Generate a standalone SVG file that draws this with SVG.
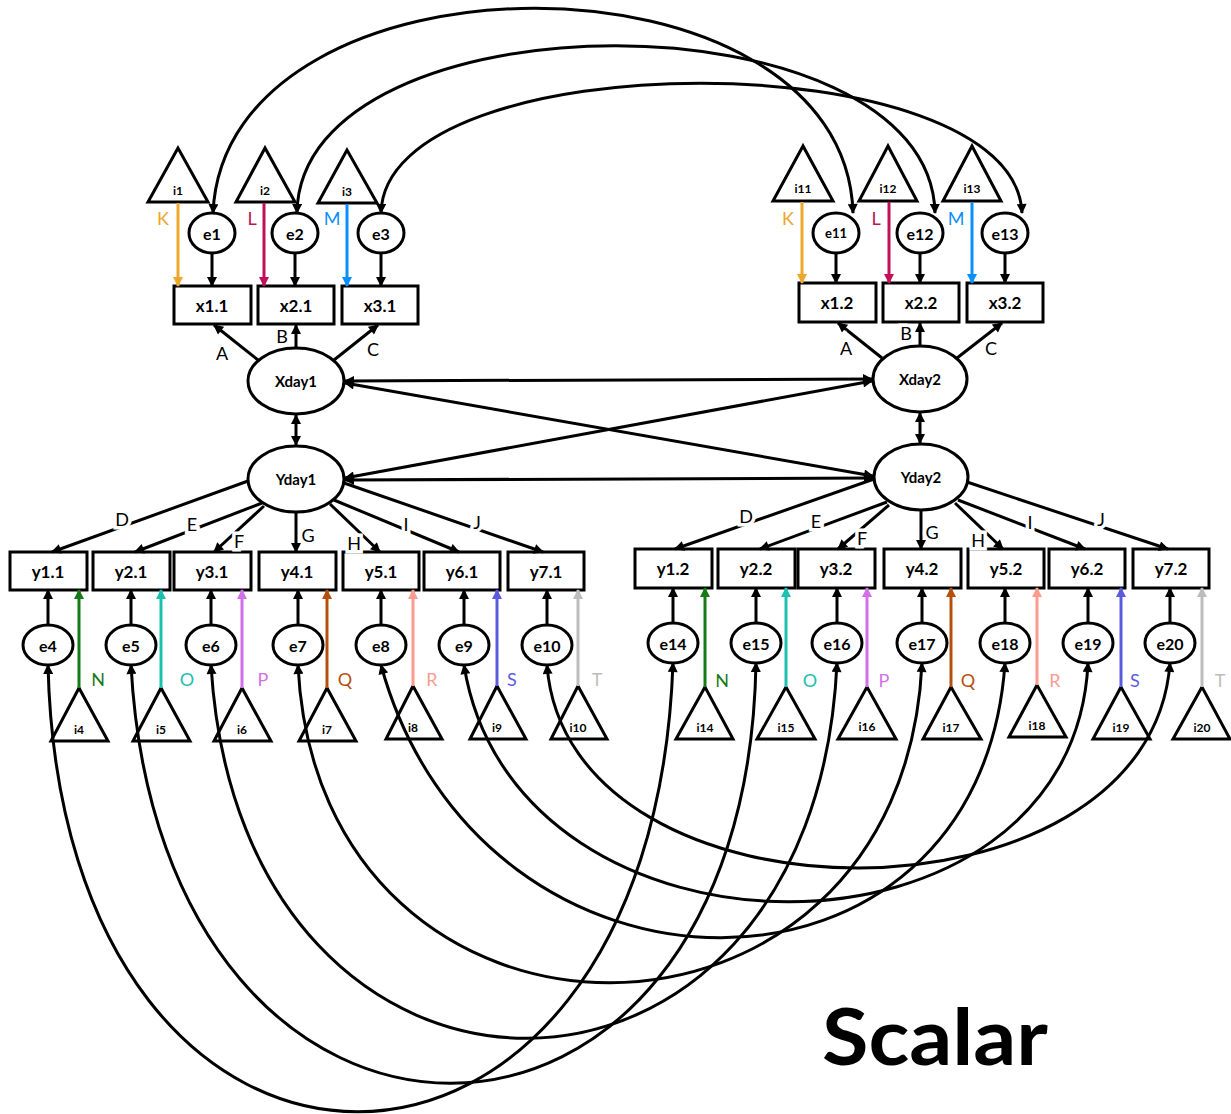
<svg xmlns="http://www.w3.org/2000/svg" width="1231" height="1114" viewBox="0 0 1231 1114">
<style>
.n{fill:#fff;stroke:#000;stroke-width:3}
.tri{fill:none;stroke:#000;stroke-width:3;stroke-linejoin:miter}
.t{font-family:Lato,"Open Sans",sans-serif;font-weight:700;text-anchor:middle;dominant-baseline:central;fill:#000}
.bx{font-size:17px}
.el{font-size:16px}
.lv{font-size:15px}
.ti{font-size:12px}
.c{fill:none;stroke:#000;stroke-width:3}
.a{marker-end:url(#ah)}
.d{marker-start:url(#ah);marker-end:url(#ah)}
.lab{font-family:Lato,"Open Sans",sans-serif;font-size:18px;text-anchor:middle;dominant-baseline:central;fill:#000;stroke:#fff;stroke-width:7;paint-order:stroke}
.cl{font-family:Lato,"Open Sans",sans-serif;font-size:18px;text-anchor:middle;dominant-baseline:central}
</style>
<defs>
<marker id="ah" viewBox="0 0 10 10" refX="9" refY="5" markerWidth="11" markerHeight="10" markerUnits="userSpaceOnUse" orient="auto-start-reverse"><path d="M0,0L10,5L0,10z" fill="#000"/></marker>
<marker id="mK" viewBox="0 0 10 10" refX="9" refY="5" markerWidth="11" markerHeight="10" markerUnits="userSpaceOnUse" orient="auto"><path d="M0,0L10,5L0,10z" fill="#EBA82A"/></marker>
<marker id="mL" viewBox="0 0 10 10" refX="9" refY="5" markerWidth="11" markerHeight="10" markerUnits="userSpaceOnUse" orient="auto"><path d="M0,0L10,5L0,10z" fill="#C0105A"/></marker>
<marker id="mM" viewBox="0 0 10 10" refX="9" refY="5" markerWidth="11" markerHeight="10" markerUnits="userSpaceOnUse" orient="auto"><path d="M0,0L10,5L0,10z" fill="#0A8FFF"/></marker>
<marker id="mN" viewBox="0 0 10 10" refX="9" refY="5" markerWidth="11" markerHeight="10" markerUnits="userSpaceOnUse" orient="auto"><path d="M0,0L10,5L0,10z" fill="#167A16"/></marker>
<marker id="mO" viewBox="0 0 10 10" refX="9" refY="5" markerWidth="11" markerHeight="10" markerUnits="userSpaceOnUse" orient="auto"><path d="M0,0L10,5L0,10z" fill="#1CC0B0"/></marker>
<marker id="mP" viewBox="0 0 10 10" refX="9" refY="5" markerWidth="11" markerHeight="10" markerUnits="userSpaceOnUse" orient="auto"><path d="M0,0L10,5L0,10z" fill="#D270E8"/></marker>
<marker id="mQ" viewBox="0 0 10 10" refX="9" refY="5" markerWidth="11" markerHeight="10" markerUnits="userSpaceOnUse" orient="auto"><path d="M0,0L10,5L0,10z" fill="#B4500E"/></marker>
<marker id="mR" viewBox="0 0 10 10" refX="9" refY="5" markerWidth="11" markerHeight="10" markerUnits="userSpaceOnUse" orient="auto"><path d="M0,0L10,5L0,10z" fill="#FF9A90"/></marker>
<marker id="mS" viewBox="0 0 10 10" refX="9" refY="5" markerWidth="11" markerHeight="10" markerUnits="userSpaceOnUse" orient="auto"><path d="M0,0L10,5L0,10z" fill="#5B5BDE"/></marker>
<marker id="mT" viewBox="0 0 10 10" refX="9" refY="5" markerWidth="11" markerHeight="10" markerUnits="userSpaceOnUse" orient="auto"><path d="M0,0L10,5L0,10z" fill="#BDBDBD"/></marker>
</defs>
<rect width="1231" height="1114" fill="#fff"/>

<!-- nodes -->
<g id="i1"><polygon class="tri" points="178,148 148,202 208,202"/><text class="t ti" x="178" y="190">i1</text></g>
<g id="i2"><polygon class="tri" points="265,148 236,202 295,202"/><text class="t ti" x="265" y="190">i2</text></g>
<g id="i3"><polygon class="tri" points="347,150 318,203 377,203"/><text class="t ti" x="347" y="191">i3</text></g>
<g id="i11"><polygon class="tri" points="803,146 773,201 833,201"/><text class="t ti" x="803" y="188">i11</text></g>
<g id="i12"><polygon class="tri" points="888,146 859,201 917,201"/><text class="t ti" x="888" y="188">i12</text></g>
<g id="i13"><polygon class="tri" points="972,146 943,201 1001,201"/><text class="t ti" x="972" y="188">i13</text></g>

<g id="e1"><ellipse class="n" cx="212" cy="233" rx="23" ry="20"/><text class="t el" x="212" y="233">e1</text></g>
<g id="e2"><ellipse class="n" cx="295" cy="233" rx="23" ry="20"/><text class="t el" x="295" y="233">e2</text></g>
<g id="e3"><ellipse class="n" cx="381" cy="233" rx="23" ry="20"/><text class="t el" x="381" y="233">e3</text></g>
<g id="e11"><ellipse class="n" cx="836" cy="233" rx="23" ry="20"/><text class="t el" x="836" y="233" style="font-size:13px">e11</text></g>
<g id="e12"><ellipse class="n" cx="920" cy="233" rx="23" ry="20"/><text class="t el" x="920" y="233">e12</text></g>
<g id="e13"><ellipse class="n" cx="1005" cy="233" rx="23" ry="20"/><text class="t el" x="1005" y="233">e13</text></g>

<g id="x1.1"><rect class="n" x="174" y="286" width="77" height="38"/><text class="t bx" x="212" y="305">x1.1</text></g>
<g id="x2.1"><rect class="n" x="258" y="286" width="76" height="38"/><text class="t bx" x="296" y="305">x2.1</text></g>
<g id="x3.1"><rect class="n" x="342" y="286" width="76" height="38"/><text class="t bx" x="380" y="305">x3.1</text></g>
<g id="x1.2"><rect class="n" x="799" y="283" width="77" height="39"/><text class="t bx" x="837" y="302">x1.2</text></g>
<g id="x2.2"><rect class="n" x="883" y="283" width="76" height="39"/><text class="t bx" x="921" y="302">x2.2</text></g>
<g id="x3.2"><rect class="n" x="967" y="283" width="76" height="39"/><text class="t bx" x="1005" y="302">x3.2</text></g>

<g id="Xday1"><ellipse class="n" cx="296" cy="381" rx="48" ry="33"/><text class="t lv" x="296" y="381">Xday1</text></g>
<g id="Yday1"><ellipse class="n" cx="296" cy="479" rx="48" ry="33"/><text class="t lv" x="296" y="479">Yday1</text></g>
<g id="Xday2"><ellipse class="n" cx="920" cy="379" rx="47" ry="33"/><text class="t lv" x="920" y="379">Xday2</text></g>
<g id="Yday2"><ellipse class="n" cx="921" cy="477" rx="47" ry="33"/><text class="t lv" x="921" y="477">Yday2</text></g>

<g id="y1.1"><rect class="n" x="10" y="552" width="77" height="38"/><text class="t bx" x="48" y="571">y1.1</text></g>
<g id="y2.1"><rect class="n" x="93" y="552" width="77" height="38"/><text class="t bx" x="131" y="571">y2.1</text></g>
<g id="y3.1"><rect class="n" x="174" y="552" width="77" height="38"/><text class="t bx" x="212" y="571">y3.1</text></g>
<g id="y4.1"><rect class="n" x="259" y="552" width="77" height="38"/><text class="t bx" x="297" y="571">y4.1</text></g>
<g id="y5.1"><rect class="n" x="343" y="552" width="76" height="38"/><text class="t bx" x="381" y="571">y5.1</text></g>
<g id="y6.1"><rect class="n" x="424" y="552" width="76" height="38"/><text class="t bx" x="462" y="571">y6.1</text></g>
<g id="y7.1"><rect class="n" x="508" y="552" width="76" height="38"/><text class="t bx" x="546" y="571">y7.1</text></g>

<g id="y1.2"><rect class="n" x="635" y="549" width="77" height="39"/><text class="t bx" x="673" y="568">y1.2</text></g>
<g id="y2.2"><rect class="n" x="718" y="549" width="77" height="39"/><text class="t bx" x="756" y="568">y2.2</text></g>
<g id="y3.2"><rect class="n" x="798" y="549" width="77" height="39"/><text class="t bx" x="836" y="568">y3.2</text></g>
<g id="y4.2"><rect class="n" x="884" y="549" width="77" height="39"/><text class="t bx" x="922" y="568">y4.2</text></g>
<g id="y5.2"><rect class="n" x="968" y="549" width="76" height="39"/><text class="t bx" x="1006" y="568">y5.2</text></g>
<g id="y6.2"><rect class="n" x="1049" y="549" width="76" height="39"/><text class="t bx" x="1087" y="568">y6.2</text></g>
<g id="y7.2"><rect class="n" x="1133" y="549" width="76" height="39"/><text class="t bx" x="1171" y="568">y7.2</text></g>

<g id="e4"><ellipse class="n" cx="48" cy="645" rx="25" ry="20"/><text class="t el" x="48" y="645">e4</text></g>
<g id="e5"><ellipse class="n" cx="131" cy="645" rx="25" ry="20"/><text class="t el" x="131" y="645">e5</text></g>
<g id="e6"><ellipse class="n" cx="211" cy="645" rx="25" ry="20"/><text class="t el" x="211" y="645">e6</text></g>
<g id="e7"><ellipse class="n" cx="298" cy="645" rx="25" ry="20"/><text class="t el" x="298" y="645">e7</text></g>
<g id="e8"><ellipse class="n" cx="381" cy="645" rx="25" ry="20"/><text class="t el" x="381" y="645">e8</text></g>
<g id="e9"><ellipse class="n" cx="464" cy="645" rx="25" ry="20"/><text class="t el" x="464" y="645">e9</text></g>
<g id="e10"><ellipse class="n" cx="547" cy="645" rx="25" ry="20"/><text class="t el" x="547" y="645">e10</text></g>

<g id="e14"><ellipse class="n" cx="673" cy="643" rx="25" ry="20"/><text class="t el" x="673" y="643">e14</text></g>
<g id="e15"><ellipse class="n" cx="756" cy="643" rx="25" ry="20"/><text class="t el" x="756" y="643">e15</text></g>
<g id="e16"><ellipse class="n" cx="837" cy="643" rx="25" ry="20"/><text class="t el" x="837" y="643">e16</text></g>
<g id="e17"><ellipse class="n" cx="922" cy="643" rx="25" ry="20"/><text class="t el" x="922" y="643">e17</text></g>
<g id="e18"><ellipse class="n" cx="1005" cy="643" rx="25" ry="20"/><text class="t el" x="1005" y="643">e18</text></g>
<g id="e19"><ellipse class="n" cx="1088" cy="643" rx="25" ry="20"/><text class="t el" x="1088" y="643">e19</text></g>
<g id="e20"><ellipse class="n" cx="1170" cy="643" rx="25" ry="20"/><text class="t el" x="1170" y="643">e20</text></g>

<g id="i4"><polygon class="tri" points="79,688 51,741 108,741"/><text class="t ti" x="79" y="729">i4</text></g>
<g id="i5"><polygon class="tri" points="161,688 133,741 190,741"/><text class="t ti" x="161" y="729">i5</text></g>
<g id="i6"><polygon class="tri" points="242,688 214,741 271,741"/><text class="t ti" x="242" y="729">i6</text></g>
<g id="i7"><polygon class="tri" points="327,688 299,741 356,741"/><text class="t ti" x="327" y="729">i7</text></g>
<g id="i8"><polygon class="tri" points="413,686 386,739 442,739"/><text class="t ti" x="413" y="727">i8</text></g>
<g id="i9"><polygon class="tri" points="497,686 470,739 526,739"/><text class="t ti" x="497" y="727">i9</text></g>
<g id="i10"><polygon class="tri" points="578,686 551,739 607,739"/><text class="t ti" x="578" y="727">i10</text></g>

<g id="i14"><polygon class="tri" points="705,687 676,739 733,739"/><text class="t ti" x="705" y="727">i14</text></g>
<g id="i15"><polygon class="tri" points="786,687 757,739 815,739"/><text class="t ti" x="786" y="727">i15</text></g>
<g id="i16"><polygon class="tri" points="867,687 838,739 896,739"/><text class="t ti" x="867" y="726">i16</text></g>
<g id="i17"><polygon class="tri" points="951,687 923,739 981,739"/><text class="t ti" x="951" y="727">i17</text></g>
<g id="i18"><polygon class="tri" points="1037,685 1009,737 1066,737"/><text class="t ti" x="1037" y="725">i18</text></g>
<g id="i19"><polygon class="tri" points="1121,687 1093,739 1150,739"/><text class="t ti" x="1121" y="727">i19</text></g>
<g id="i20"><polygon class="tri" points="1202,687 1173,739 1230,739"/><text class="t ti" x="1202" y="727">i20</text></g>

<!-- connectors -->
<g id="connectors">
<path class="c d" d="M213,213 C225,-60 845,-60 853,213"/>
<path class="c d" d="M297,213 C300,-10 930,-10 935,213"/>
<path class="c d" d="M381,213 C385,40 1015,40 1022,213"/>
<line class="c a" x1="212" y1="253" x2="212" y2="286"/>
<line class="c a" x1="295" y1="253" x2="295" y2="286"/>
<line class="c a" x1="381" y1="253" x2="381" y2="286"/>
<line class="c a" x1="836" y1="253" x2="836" y2="283"/>
<line class="c a" x1="920" y1="253" x2="920" y2="283"/>
<line class="c a" x1="1005" y1="253" x2="1005" y2="283"/>
<line stroke="#EBA82A" stroke-width="3" marker-end="url(#mK)" x1="178" y1="203" x2="178" y2="286"/>
<line stroke="#C0105A" stroke-width="3" marker-end="url(#mL)" x1="264" y1="203" x2="264" y2="286"/>
<line stroke="#0A8FFF" stroke-width="3" marker-end="url(#mM)" x1="347" y1="204" x2="347" y2="286"/>
<line stroke="#EBA82A" stroke-width="3" marker-end="url(#mK)" x1="802" y1="202" x2="802" y2="283"/>
<line stroke="#C0105A" stroke-width="3" marker-end="url(#mL)" x1="889" y1="202" x2="889" y2="283"/>
<line stroke="#0A8FFF" stroke-width="3" marker-end="url(#mM)" x1="972" y1="202" x2="972" y2="283"/>
<line class="c a" x1="258" y1="360" x2="214" y2="325"/>
<line class="c a" x1="296" y1="348" x2="296" y2="325"/>
<line class="c a" x1="334" y1="360" x2="378" y2="325"/>
<line class="c a" x1="882" y1="358" x2="838" y2="323"/>
<line class="c a" x1="920" y1="346" x2="920" y2="323"/>
<line class="c a" x1="957" y1="358" x2="1002" y2="323"/>
<line class="c d" x1="296" y1="415" x2="296" y2="445"/>
<line class="c d" x1="920" y1="413" x2="920" y2="443"/>
<line class="c d" x1="345" y1="381" x2="872" y2="379"/>
<line class="c d" x1="345" y1="480" x2="873" y2="478"/>
<line class="c d" x1="345" y1="383" x2="873" y2="476"/>
<line class="c d" x1="345" y1="478" x2="872" y2="381"/>
<line class="c a" x1="248" y1="481" x2="52" y2="552"/>
<line class="c a" x1="262" y1="503" x2="135" y2="552"/>
<line class="c a" x1="264" y1="506" x2="214" y2="552"/>
<line class="c a" x1="296" y1="512" x2="296" y2="552"/>
<line class="c a" x1="330" y1="504" x2="380" y2="552"/>
<line class="c a" x1="334" y1="500" x2="459" y2="552"/>
<line class="c a" x1="344" y1="483" x2="543" y2="552"/>
<line class="c a" x1="874" y1="479" x2="675" y2="549"/>
<line class="c a" x1="887" y1="502" x2="760" y2="549"/>
<line class="c a" x1="889" y1="505" x2="838" y2="549"/>
<line class="c a" x1="921" y1="510" x2="921" y2="549"/>
<line class="c a" x1="955" y1="503" x2="1003" y2="549"/>
<line class="c a" x1="958" y1="500" x2="1085" y2="549"/>
<line class="c a" x1="967" y1="482" x2="1168" y2="549"/>
<line class="c a" x1="48" y1="625" x2="48" y2="590"/>
<line class="c a" x1="131" y1="625" x2="131" y2="590"/>
<line class="c a" x1="211" y1="625" x2="211" y2="590"/>
<line class="c a" x1="298" y1="625" x2="298" y2="590"/>
<line class="c a" x1="381" y1="625" x2="381" y2="590"/>
<line class="c a" x1="464" y1="625" x2="464" y2="590"/>
<line class="c a" x1="547" y1="625" x2="547" y2="590"/>
<line class="c a" x1="673" y1="623" x2="673" y2="588"/>
<line class="c a" x1="756" y1="623" x2="756" y2="588"/>
<line class="c a" x1="837" y1="623" x2="837" y2="588"/>
<line class="c a" x1="922" y1="623" x2="922" y2="588"/>
<line class="c a" x1="1005" y1="623" x2="1005" y2="588"/>
<line class="c a" x1="1088" y1="623" x2="1088" y2="588"/>
<line class="c a" x1="1170" y1="623" x2="1170" y2="588"/>
<line stroke="#167A16" stroke-width="3" marker-end="url(#mN)" x1="79" y1="688" x2="79" y2="590"/>
<line stroke="#1CC0B0" stroke-width="3" marker-end="url(#mO)" x1="161" y1="688" x2="161" y2="590"/>
<line stroke="#D270E8" stroke-width="3" marker-end="url(#mP)" x1="242" y1="688" x2="242" y2="590"/>
<line stroke="#B4500E" stroke-width="3" marker-end="url(#mQ)" x1="327" y1="688" x2="327" y2="590"/>
<line stroke="#FF9A90" stroke-width="3" marker-end="url(#mR)" x1="413" y1="686" x2="413" y2="590"/>
<line stroke="#5B5BDE" stroke-width="3" marker-end="url(#mS)" x1="497" y1="686" x2="497" y2="590"/>
<line stroke="#BDBDBD" stroke-width="3" marker-end="url(#mT)" x1="578" y1="686" x2="578" y2="590"/>
<line stroke="#167A16" stroke-width="3" marker-end="url(#mN)" x1="705" y1="687" x2="705" y2="588"/>
<line stroke="#1CC0B0" stroke-width="3" marker-end="url(#mO)" x1="786" y1="687" x2="786" y2="588"/>
<line stroke="#D270E8" stroke-width="3" marker-end="url(#mP)" x1="867" y1="687" x2="867" y2="588"/>
<line stroke="#B4500E" stroke-width="3" marker-end="url(#mQ)" x1="951" y1="687" x2="951" y2="588"/>
<line stroke="#FF9A90" stroke-width="3" marker-end="url(#mR)" x1="1037" y1="685" x2="1037" y2="588"/>
<line stroke="#5B5BDE" stroke-width="3" marker-end="url(#mS)" x1="1121" y1="687" x2="1121" y2="588"/>
<line stroke="#BDBDBD" stroke-width="3" marker-end="url(#mT)" x1="1202" y1="687" x2="1202" y2="588"/>
<path class="c d" d="M48,665 C62,1261 652,1261 673,663"/>
<path class="c d" d="M131,665 C161,1223 746,1223 756,663"/>
<path class="c d" d="M211,665 C241,1163 814,1163 837,663"/>
<path class="c d" d="M298,665 C318,1089 902,1089 922,663"/>
<path class="c d" d="M381,665 C481,1029 980,1029 1005,663"/>
<path class="c d" d="M464,665 C514,981 1073,981 1088,663"/>
<path class="c d" d="M547,665 C567,936 1150,936 1170,663"/>
</g>

<g id="labels">
<text class="lab" x="222" y="353">A</text>
<text class="lab" x="282" y="336">B</text>
<text class="lab" x="373" y="349">C</text>
<text class="lab" x="846" y="348">A</text>
<text class="lab" x="906" y="333">B</text>
<text class="lab" x="991" y="348">C</text>
<text class="lab" x="122" y="519">D</text>
<text class="lab" x="192" y="524">E</text>
<text class="lab" x="239" y="541">F</text>
<text class="lab" x="308" y="535">G</text>
<text class="lab" x="354" y="543">H</text>
<text class="lab" x="406" y="524">I</text>
<text class="lab" x="477" y="522">J</text>
<text class="lab" x="746" y="516">D</text>
<text class="lab" x="816" y="521">E</text>
<text class="lab" x="862" y="538">F</text>
<text class="lab" x="932" y="532">G</text>
<text class="lab" x="978" y="540">H</text>
<text class="lab" x="1030" y="522">I</text>
<text class="lab" x="1101" y="519">J</text>
<text class="cl" x="163" y="218" fill="#EBA82A">K</text>
<text class="cl" x="252" y="218" fill="#C0105A">L</text>
<text class="cl" x="332" y="218" fill="#0A8FFF">M</text>
<text class="cl" x="788" y="218" fill="#EBA82A">K</text>
<text class="cl" x="876" y="218" fill="#C0105A">L</text>
<text class="cl" x="956" y="218" fill="#0A8FFF">M</text>
<text class="cl" x="98" y="679" fill="#167A16">N</text>
<text class="cl" x="187" y="679" fill="#1CC0B0">O</text>
<text class="cl" x="263" y="679" fill="#D270E8">P</text>
<text class="cl" x="345" y="679" fill="#B4500E">Q</text>
<text class="cl" x="432" y="679" fill="#FF9A90">R</text>
<text class="cl" x="512" y="679" fill="#5B5BDE">S</text>
<text class="cl" x="597" y="679" fill="#BDBDBD">T</text>
<text class="cl" x="722" y="680" fill="#167A16">N</text>
<text class="cl" x="810" y="680" fill="#1CC0B0">O</text>
<text class="cl" x="884" y="680" fill="#D270E8">P</text>
<text class="cl" x="968" y="680" fill="#B4500E">Q</text>
<text class="cl" x="1055" y="680" fill="#FF9A90">R</text>
<text class="cl" x="1135" y="680" fill="#5B5BDE">S</text>
<text class="cl" x="1220" y="680" fill="#BDBDBD">T</text>
</g>
<text x="822" y="1065" font-family="Lato,'Open Sans',sans-serif" font-weight="700" font-size="78" textLength="226" lengthAdjust="spacingAndGlyphs">Scalar</text>
</svg>
